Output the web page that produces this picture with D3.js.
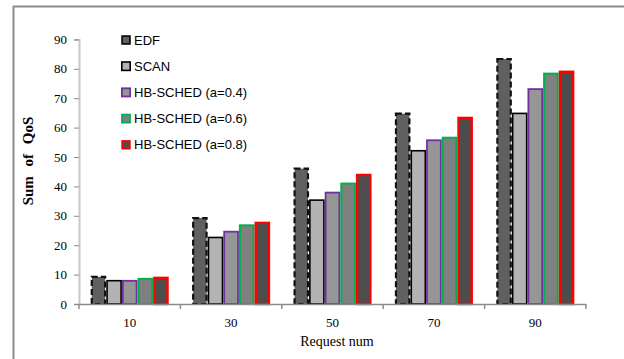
<!DOCTYPE html>
<html>
<head>
<meta charset="utf-8">
<script src="https://cdn.jsdelivr.net/npm/d3@7"></script>
<style>
  html, body { margin: 0; padding: 0; background: #fff; overflow: hidden; }
  svg { display: block; }
</style>
</head>
<body>
<svg id="chart" width="624" height="359"></svg>
<script>
// Request counts on the x axis
const categories = ["10", "30", "50", "70", "90"];
const seriesNames = ["EDF", "SCAN", "HB-SCHED (a=0.4)", "HB-SCHED (a=0.6)", "HB-SCHED (a=0.8)"];
// Sum of QoS per scheduler, one value per request count
const edf    = [9.6, 29.6, 46.4, 65.1, 83.7];
const scan   = [8.2, 22.9, 35.6, 52.4, 65.1];
const hb04   = [8.2, 24.9, 38.2, 56.0, 73.4];
const hb06   = [8.9, 27.1, 41.3, 56.9, 78.7];
const hb08   = [9.3, 28.0, 44.3, 63.7, 79.4];
const yTicks = [0, 10, 20, 30, 40, 50, 60, 70, 80, 90];

const seriesValues = [edf, scan, hb04, hb06, hb08];
const fills   = ["#606060", "#b3b3b3", "#969696", "#808080", "#4d4d4d"];
const strokes = ["#111111", "#000000", "#7030a0", "#00b050", "#ff0000"];
const widths  = [2.2, 1.6, 1.8, 2, 2.4];
const dashes  = ["6,3", null, null, null, null];

const svg = d3.select("#chart");

// outer frame, running off the right and bottom edges
svg.append("rect")
  .attr("x", 13.5).attr("y", 6.5)
  .attr("width", 640).attr("height", 400)
  .attr("fill", "none").attr("stroke", "#8c8c8c").attr("stroke-width", 2);

const x0 = d3.scaleBand().domain(categories).range([79, 586])
  .paddingInner(0.23).paddingOuter(0.115);
const x1 = d3.scaleBand().domain(d3.range(seriesNames.length))
  .range([0, x0.bandwidth()]).padding(0);
const y = d3.scaleLinear().domain([0, 90]).range([304, 39.4]);

// y axis
const yAxis = svg.append("g").attr("transform", "translate(79,0)")
  .call(d3.axisLeft(y).tickValues(yTicks).tickSize(5).tickPadding(7));
yAxis.select(".domain").attr("stroke", "#c8c8c8").attr("stroke-width", 2);
yAxis.selectAll(".tick line").attr("stroke", "#8c8c8c");
yAxis.selectAll(".tick text")
  .attr("font-family", "'Liberation Serif', 'Times New Roman', serif")
  .attr("font-size", 13).attr("fill", "#000");

// bars
const groups = svg.append("g").selectAll("g")
  .data(categories).join("g")
  .attr("transform", d => `translate(${x0(d)},0)`);

groups.selectAll("rect")
  .data((c, ci) => seriesValues.map((vals, si) => ({ si, v: vals[ci] })))
  .join("rect")
  .attr("x", d => x1(d.si) + widths[d.si] / 2)
  .attr("y", d => y(d.v) + widths[d.si] / 2)
  .attr("width", d => x1.bandwidth() - widths[d.si])
  .attr("height", d => y(0) - y(d.v) - widths[d.si] / 2)
  .attr("fill", d => fills[d.si])
  .attr("stroke", d => strokes[d.si])
  .attr("stroke-width", d => widths[d.si])
  .attr("stroke-dasharray", d => dashes[d.si]);

// x axis with ticks between the category groups
const xg = svg.append("g");
xg.append("line")
  .attr("x1", 79).attr("x2", 586).attr("y1", 304.5).attr("y2", 304.5)
  .attr("stroke", "#8c8c8c").attr("stroke-width", 1.5);
const step = x0.step();
const edges = categories.map(c => x0(c) - (step - x0.bandwidth()) / 2).concat([586]);
xg.selectAll("line.sep").data(edges).join("line").attr("class", "sep")
  .attr("x1", d => d).attr("x2", d => d)
  .attr("y1", 304).attr("y2", 309)
  .attr("stroke", "#8c8c8c").attr("stroke-width", 1.5);
xg.selectAll("text").data(categories).join("text")
  .attr("x", d => x0(d) + x0.bandwidth() / 2)
  .attr("y", 327)
  .attr("text-anchor", "middle")
  .attr("font-family", "'Liberation Serif', 'Times New Roman', serif")
  .attr("font-size", 13)
  .text(d => d);

// axis titles
svg.append("text")
  .attr("x", 337).attr("y", 346)
  .attr("text-anchor", "middle")
  .attr("font-family", "'Liberation Serif', 'Times New Roman', serif")
  .attr("font-size", 14)
  .text("Request num");

svg.append("text")
  .attr("transform", "translate(33,161) rotate(-90)")
  .attr("text-anchor", "middle")
  .attr("font-family", "'Liberation Serif', 'Times New Roman', serif")
  .attr("font-weight", "bold")
  .attr("font-size", 15)
  .attr("word-spacing", 6)
  .text("Sum of QoS");

// legend
const legend = svg.append("g").selectAll("g")
  .data(seriesNames).join("g")
  .attr("transform", (d, i) => `translate(121,${40 + i * 26.2})`);
legend.append("rect")
  .attr("x", (d, i) => widths[i] / 2 - 5)
  .attr("y", (d, i) => widths[i] / 2 - 5)
  .attr("width", (d, i) => 10 - widths[i])
  .attr("height", (d, i) => 10 - widths[i])
  .attr("transform", "translate(5,0)")
  .attr("fill", (d, i) => fills[i])
  .attr("stroke", (d, i) => strokes[i])
  .attr("stroke-width", (d, i) => Math.min(widths[i], 1.8));
legend.append("text")
  .attr("x", 13).attr("y", 0).attr("dy", "0.36em")
  .attr("font-family", "'Liberation Sans', Arial, sans-serif")
  .attr("font-size", 13)
  .text(d => d);
</script>
</body>
</html>
